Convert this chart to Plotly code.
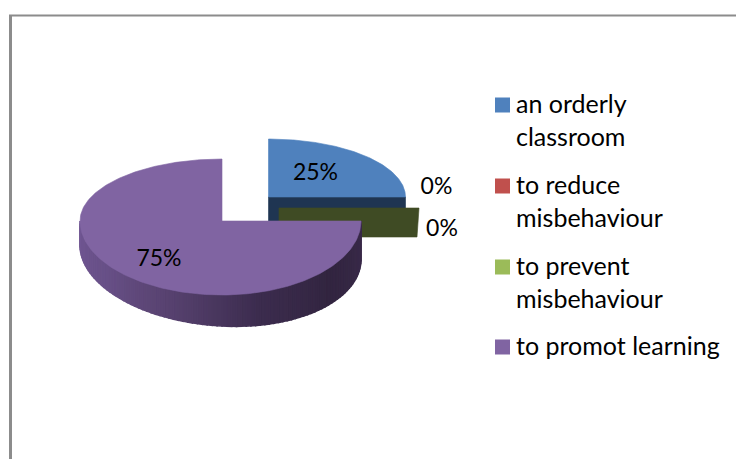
import numpy as np
import plotly.graph_objects as go

# ---- data ----
categories = ["an orderly<br>classroom", "to reduce<br>misbehaviour",
              "to prevent<br>misbehaviour", "to promot learning"]
values = [25, 0, 0, 75]
colors = ["#4F81BD", "#C0504D", "#9BBB59", "#8064A2"]

# ---- pie geometry (pixel space of the figure) ----
W, H = 736, 459
BLUE = dict(cx=268.5, cy=197, rx=137, rl=137, up=58, down=66, depth=31)
OLIVE = dict(cx=279, cy=208, rx=139, depth=29)
PURPLE = dict(cx=222, cy=221, rx=139, rl=142, up=62, down=74)
BLUE_SIDE, OLIVE_SIDE = "#1F3552", "#3F4B24"
LEGEND_ROWS = [105, 186, 267, 347]

# cumulative slice angles, clockwise from 12 o'clock
ends = np.cumsum(values) / np.sum(values) * 360
starts = np.concatenate([[0], ends[:-1]])


def rim(g, a0, a1, n=160):
    t = np.radians(np.linspace(a0, a1, n))
    c, s = np.cos(t), np.sin(t)
    ry = np.where(c > 0, g["up"], g["down"])
    rx = np.where(s > 0, g["rx"], g["rl"])
    return g["cx"] + rx * s, g["cy"] - ry * c


def depth_at(theta):
    # perspective: the side wall looks taller on the right than on the left
    return 31 + 7 * np.sin(np.radians(theta))


fig = go.Figure()


def poly(x, y, color, lw=0.6):
    fig.add_trace(go.Scatter(x=list(x), y=list(y), mode="lines", fill="toself",
                             fillcolor=color, line=dict(color=color, width=lw),
                             hoverinfo="skip", showlegend=False))


def lerp_color(stops, f):
    pos = [s[0] for s in stops]
    rgb = [np.interp(f, pos, [s[1][i] for s in stops]) for i in range(3)]
    return "rgb(%d,%d,%d)" % tuple(int(round(v)) for v in rgb)


# blue slice: cut face, then top
bx, by = rim(BLUE, starts[0], ends[0])
poly([BLUE["cx"], BLUE["cx"] + BLUE["rx"], BLUE["cx"] + BLUE["rx"], BLUE["cx"], BLUE["cx"]],
     [BLUE["cy"], BLUE["cy"], BLUE["cy"] + BLUE["depth"], BLUE["cy"] + BLUE["depth"], BLUE["cy"]],
     BLUE_SIDE)
poly(np.r_[BLUE["cx"], bx, BLUE["cx"]], np.r_[BLUE["cy"], by, BLUE["cy"]], colors[0])

# zero-size slices show only their cut face
poly([OLIVE["cx"], OLIVE["cx"] + OLIVE["rx"] + 1, OLIVE["cx"] + OLIVE["rx"] - 1, OLIVE["cx"], OLIVE["cx"]],
     [OLIVE["cy"], OLIVE["cy"], OLIVE["cy"] + OLIVE["depth"], OLIVE["cy"] + OLIVE["depth"], OLIVE["cy"]],
     OLIVE_SIDE)

# purple slice: shaded wall split in thin strips, then top
stops = [(90, (58, 42, 74)), (130, (50, 37, 64)), (165, (60, 44, 78)), (200, (86, 65, 110)),
         (235, (104, 80, 135)), (270, (112, 86, 146))]
edges = np.linspace(starts[3], 270, 91)
for a0, a1 in zip(edges[:-1], edges[1:]):
    tx, ty = rim(PURPLE, a0, a1, 5)
    ang = np.linspace(a0, a1, 5)
    d = depth_at(ang)
    poly(np.r_[tx, tx[::-1], tx[0]], np.r_[ty, (ty + d)[::-1], ty[0]],
         lerp_color(stops, (a0 + a1) / 2), lw=1.6)
px, py = rim(PURPLE, starts[3], ends[3], 300)
poly(np.r_[PURPLE["cx"], px, PURPLE["cx"]], np.r_[PURPLE["cy"], py, PURPLE["cy"]], colors[3])

# legend: swatch on the first text line of each entry
fig.add_trace(go.Scatter(x=[502.5] * 4, y=LEGEND_ROWS, mode="markers", hoverinfo="skip", showlegend=False,
                         marker=dict(symbol="square", size=15, color=colors, line=dict(width=0))))
annotations = [
    dict(x=515, y=row - 18, xref="x", yref="y", text=name, showarrow=False, xanchor="left", yanchor="top",
         align="left", borderpad=0, font=dict(family="Lato", size=25, color="#000000"))
    for row, name in zip(LEGEND_ROWS, categories)
]

# data labels, placed relative to the slices
label_xy = [
    (BLUE["cx"] + 47, BLUE["cy"] - 23),
    (BLUE["cx"] + BLUE["rx"] + 31, BLUE["cy"] - 9),
    (OLIVE["cx"] + OLIVE["rx"] + 24, OLIVE["cy"] + 22),
    (PURPLE["cx"] - 63, PURPLE["cy"] + 39),
]
fig.add_trace(go.Scatter(x=[p[0] for p in label_xy], y=[p[1] for p in label_xy], mode="text",
                         text=[f"{v}%" for v in values], textposition="middle center",
                         textfont=dict(family="Lato", size=23, color="#000000"),
                         hoverinfo="skip", showlegend=False))

fig.update_layout(
    width=W, height=H, margin=dict(l=0, r=0, t=0, b=0),
    paper_bgcolor="#ffffff", plot_bgcolor="#ffffff", showlegend=False,
    xaxis=dict(range=[0, W], visible=False, fixedrange=True),
    yaxis=dict(range=[H, 0], visible=False, fixedrange=True),
    annotations=annotations,
    shapes=[
        dict(type="line", xref="paper", yref="paper", x0=10.5 / W, x1=10.5 / W, y0=0, y1=1 - 15 / H,
             line=dict(color="#8c8c8c", width=3)),
        dict(type="line", xref="paper", yref="paper", x0=9 / W, x1=1, y0=1 - 15.5 / H, y1=1 - 15.5 / H,
             line=dict(color="#8c8c8c", width=2)),
    ],
)
fig.write_html("out.html", post_script="document.body.style.margin='0';document.body.style.overflow='hidden';",
               config={"displayModeBar": False})
